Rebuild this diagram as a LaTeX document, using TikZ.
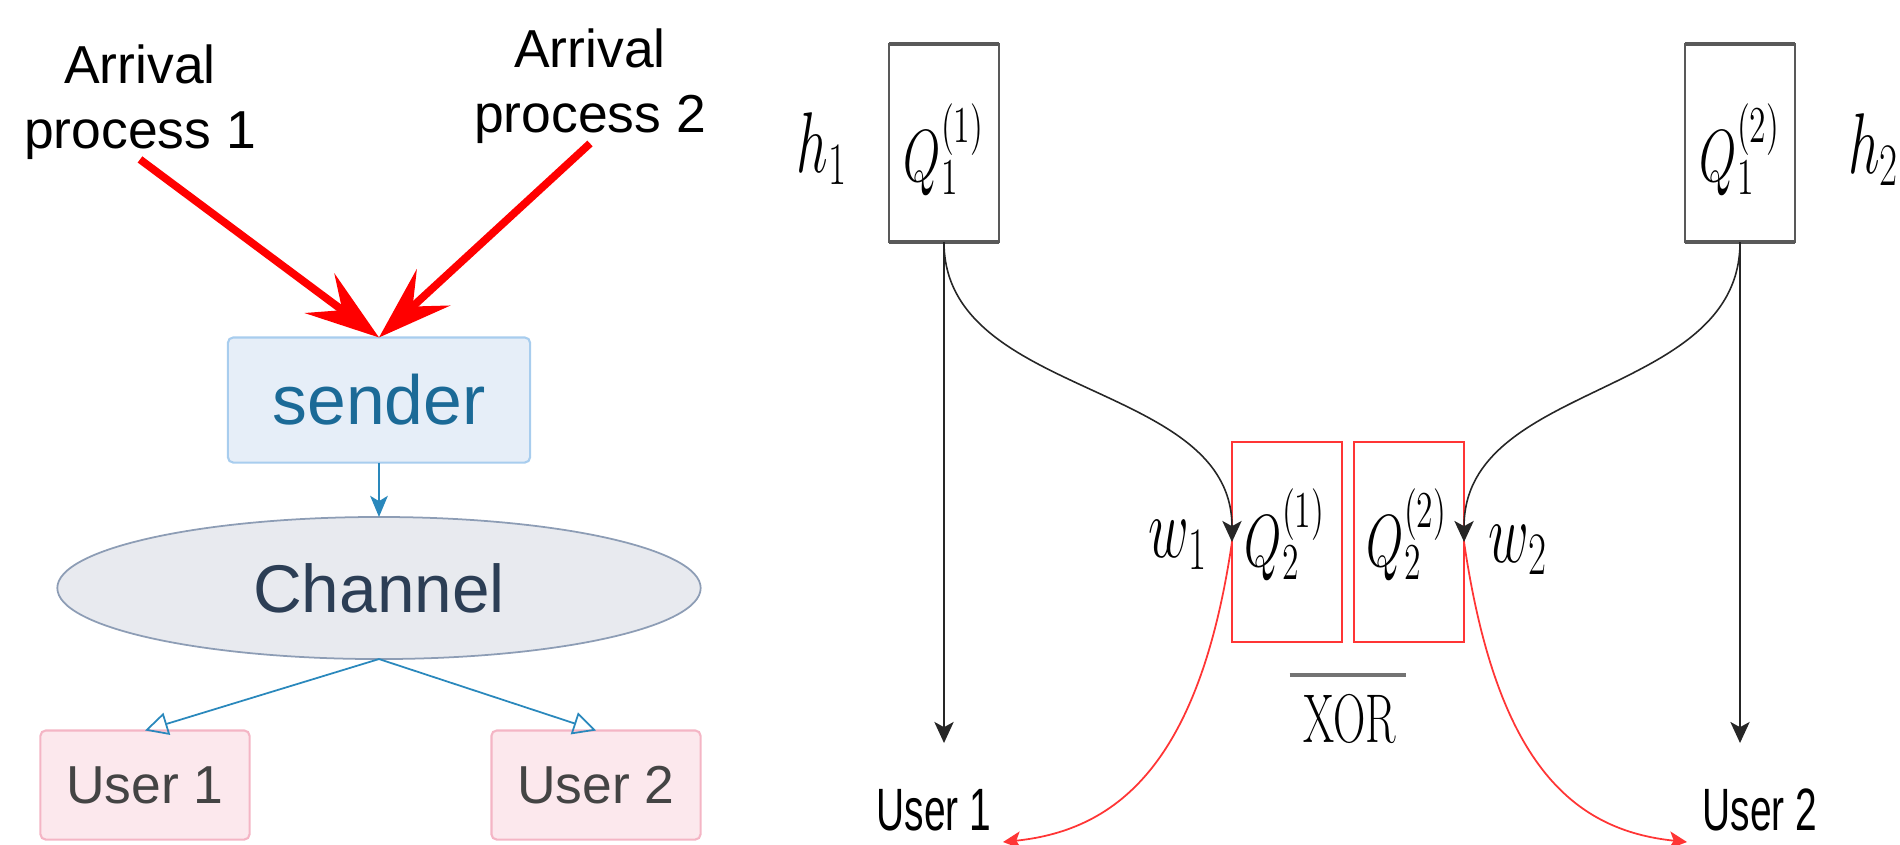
\RequirePackage{fix-cm}
\documentclass[tikz,border=0pt]{standalone}
\usepackage{fontspec}
\usetikzlibrary{arrows.meta,shapes.geometric}
\newfontfamily\arialfont{Liberation Sans}
\newfontfamily\narrowfont[FakeStretch=0.65]{Liberation Sans}
\definecolor{senderfill}{HTML}{E6EEF8}
\definecolor{senderline}{HTML}{A8CDEE}
\definecolor{sendertext}{HTML}{1B6A97}
\definecolor{chanfill}{HTML}{E8EAEF}
\definecolor{chanline}{HTML}{8D9DB5}
\definecolor{chantext}{HTML}{2C3E55}
\definecolor{userfill}{HTML}{FCE8ED}
\definecolor{userline}{HTML}{F4B5C5}
\definecolor{usertext}{HTML}{444444}
\definecolor{linkblue}{HTML}{2A88BC}
\definecolor{qred}{HTML}{FF3535}
\newcommand{\hsqueeze}[1]{\scalebox{0.65}[1]{#1}}

\begin{document}
\begin{tikzpicture}[x=0.01cm, y=-0.01cm,
    every node/.style={inner sep=0pt, outer sep=0pt},
    sans/.style={font=\arialfont\fontsize{15.2}{18.5}\selectfont, align=center},
    senderbox/.style={draw=senderline, fill=senderfill, line width=0.6pt, rounded corners=1.5pt,
        minimum width=3.02cm, minimum height=1.25cm, text=sendertext, font=\arialfont\fontsize{19.8}{24}\selectfont},
    chanshape/.style={ellipse, draw=chanline, fill=chanfill, line width=0.5pt,
        minimum width=6.43cm, minimum height=1.42cm, text=chantext, font=\arialfont\fontsize{19.2}{23}\selectfont},
    userbox/.style={draw=userline, fill=userfill, line width=0.6pt, rounded corners=1.5pt,
        minimum width=2.09cm, minimum height=1.09cm, text=usertext, font=\arialfont\fontsize{15.2}{18}\selectfont},
    inflow/.style={red, line width=2.2pt, -{Stealth[length=21pt,width=14pt,inset=8pt]}},
    tochan/.style={linkblue, line width=0.6pt, -{Stealth[length=6pt,width=5pt,inset=1.5pt]}},
    touser/.style={linkblue, line width=0.5pt, -{Triangle[open,length=6.5pt,width=6.5pt]}},
    qbox/.style={draw=black!65, line width=0.5pt, minimum width=1.1cm, minimum height=1.98cm},
    xorbox/.style={draw=qred, line width=0.55pt, minimum width=1.1cm, minimum height=2cm},
    qtext/.style={anchor=base, font=\fontsize{21}{25}\selectfont},
    vartext/.style={anchor=base, font=\fontsize{24.5}{29}\selectfont},
    narrow/.style={anchor=base, font=\narrowfont\fontsize{17}{20}\selectfont},
    flow/.style={black!85, line width=0.45pt, -{Stealth[length=6pt,width=5.5pt,inset=1.5pt]}},
    redflow/.style={qred, line width=0.5pt, -{Stealth[length=5pt,width=5pt,inset=1.2pt]}}]
\useasboundingbox (0,0) rectangle (1900,844);
% left: sender, channel, users
\node[sans] (arr1) at (140,102) {Arrival\\process 1};
\node[sans] (arr2) at (590,86) {Arrival\\process 2};
\node[senderbox] (snd) at (379,400) {sender};
\node[chanshape] (chan) at (379,588) {Channel};
\node[userbox] (u1) at (145,785) {User 1};
\node[userbox] (u2) at (596,785) {User 2};
\draw[inflow] (arr1.south) -- (snd.north);
\draw[inflow] (arr2.south) -- (snd.north);
\draw[tochan] (snd) -- (chan);
\draw[touser] (chan.south) -- (u1.north);
\draw[touser] (chan.south) -- (u2.north);
% right: queues
\node[qbox] (q11) at (944,143) {};
\node[qbox] (q12) at (1740,143) {};
\node[xorbox] (q21) at (1287,542) {};
\node[xorbox] (q22) at (1409,542) {};
\foreach \q in {q11,q12}
    \draw[black!65, line width=1.1pt] (\q.north west) -- (\q.north east) (\q.south west) -- (\q.south east);
\node[qtext] (lq11) at (944,181) {\hsqueeze{$Q_1^{(1)}$}};
\node[qtext] (lq12) at (1740,181) {\hsqueeze{$Q_1^{(2)}$}};
\node[qtext] (lq21) at (1285,566) {\hsqueeze{$Q_2^{(1)}$}};
\node[qtext] (lq22) at (1407,566) {\hsqueeze{$Q_2^{(2)}$}};
\node[vartext] (h1) at (822,172) {\hsqueeze{$h_1$}};
\node[vartext, anchor=base west] (h2) at (1848,173) {\hsqueeze{$h_2$}};
\node[vartext] (w1) at (1178,557) {\hsqueeze{$w_1$}};
\node[vartext] (w2) at (1518,562) {\hsqueeze{$w_2$}};
\node[anchor=base, font=\fontsize{19.6}{24}\selectfont] (xor) at (1350,742) {\hsqueeze{XOR}};
\draw[black!55, line width=1.1pt] ([xshift=-0.14cm,yshift=0.19cm]xor.north west) -- ([xshift=0.1cm,yshift=0.19cm]xor.north east);
\node[narrow] (v1) at (934,830) {User 1};
\node[narrow] (v2) at (1760,830) {User 2};
\coordinate (d1) at (944,743);
\coordinate (d2) at (1740,743);
\coordinate (r1) at (1003,842);
\coordinate (r2) at (1687,842);
\draw[flow] (q11.south) -- (d1);
\draw[flow] (q12.south) -- (d2);
\draw[flow] (q11.south) .. controls +(0,157) and +(0,-162) .. (q21.west);
\draw[flow] (q12.south) .. controls +(0,157) and +(0,-162) .. (q22.east);
\draw[redflow] (q21.west) .. controls +(-32,218) and +(117,-12) .. (r1);
\draw[redflow] (q22.east) .. controls +(32,218) and +(-117,-12) .. (r2);
\end{tikzpicture}
\end{document}
